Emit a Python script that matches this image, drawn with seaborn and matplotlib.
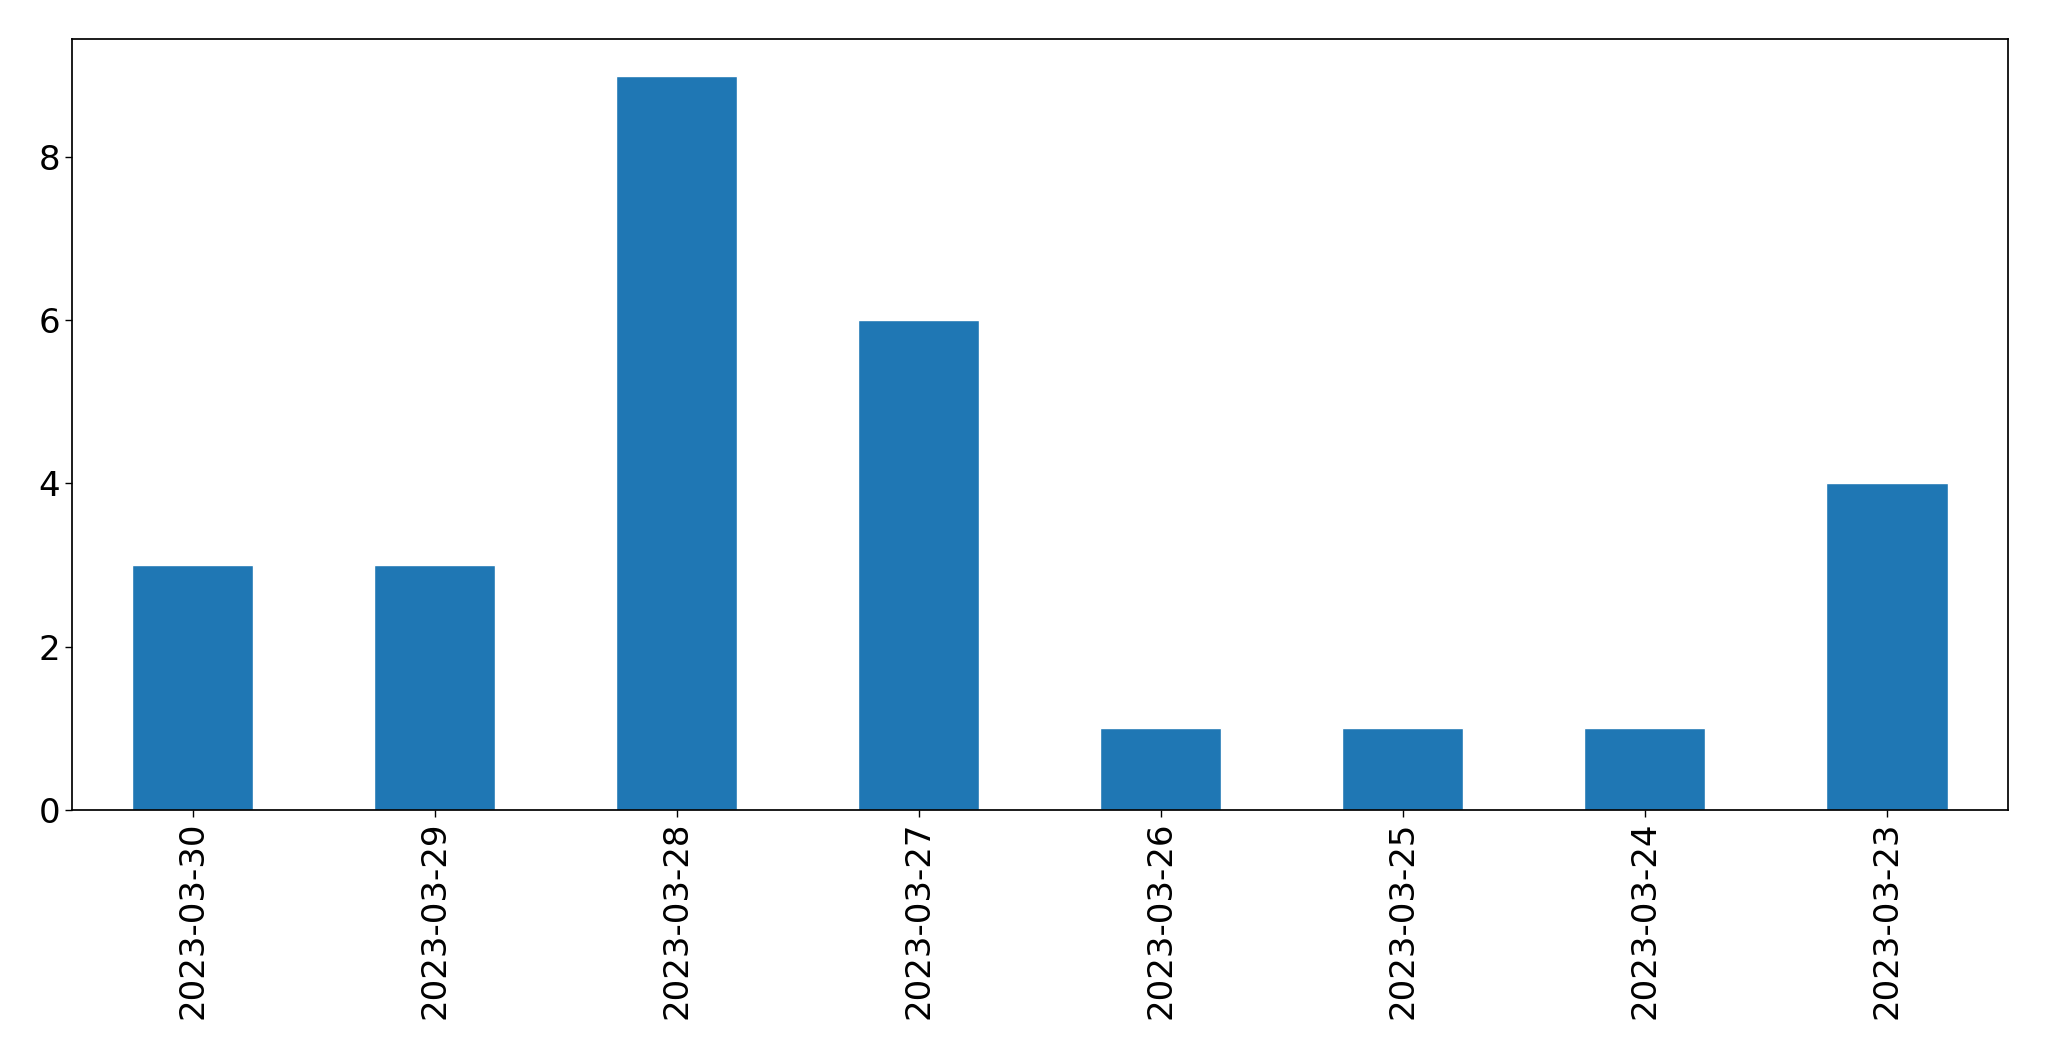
import matplotlib
matplotlib.use("Agg")
import matplotlib.pyplot as plt
import seaborn as sns
import pandas as pd

sns.set_theme(style="ticks", rc={"axes.edgecolor": "black", "xtick.color": "black",
                                 "ytick.color": "black", "text.color": "black"})
plt.rcParams["font.family"] = ["DejaVu Sans"]

dates = ["2023-03-30", "2023-03-29", "2023-03-28", "2023-03-27",
         "2023-03-26", "2023-03-25", "2023-03-24", "2023-03-23"]
counts = [3, 3, 9, 6, 1, 1, 1, 4]

df = pd.DataFrame({"date": dates, "count": counts})

fig, ax = plt.subplots(figsize=(20.49, 10.61), dpi=100)
sns.barplot(data=df, x="date", y="count", color="#1f77b4", saturation=1,
            width=0.5, ax=ax)
ax.set_xlim(-0.5, len(dates) - 0.5)
ax.set_ylim(0, 9.45)
ax.set_yticks([0, 2, 4, 6, 8])
ax.set_xlabel("")
ax.set_ylabel("")
ax.tick_params(axis="both", labelsize=24.5, length=5, width=1)
plt.setp(ax.get_xticklabels(), rotation=90)
fig.subplots_adjust(left=0.035, right=0.980, top=0.963, bottom=0.237)
plt.savefig("out.png", dpi=100)
plt.close()
